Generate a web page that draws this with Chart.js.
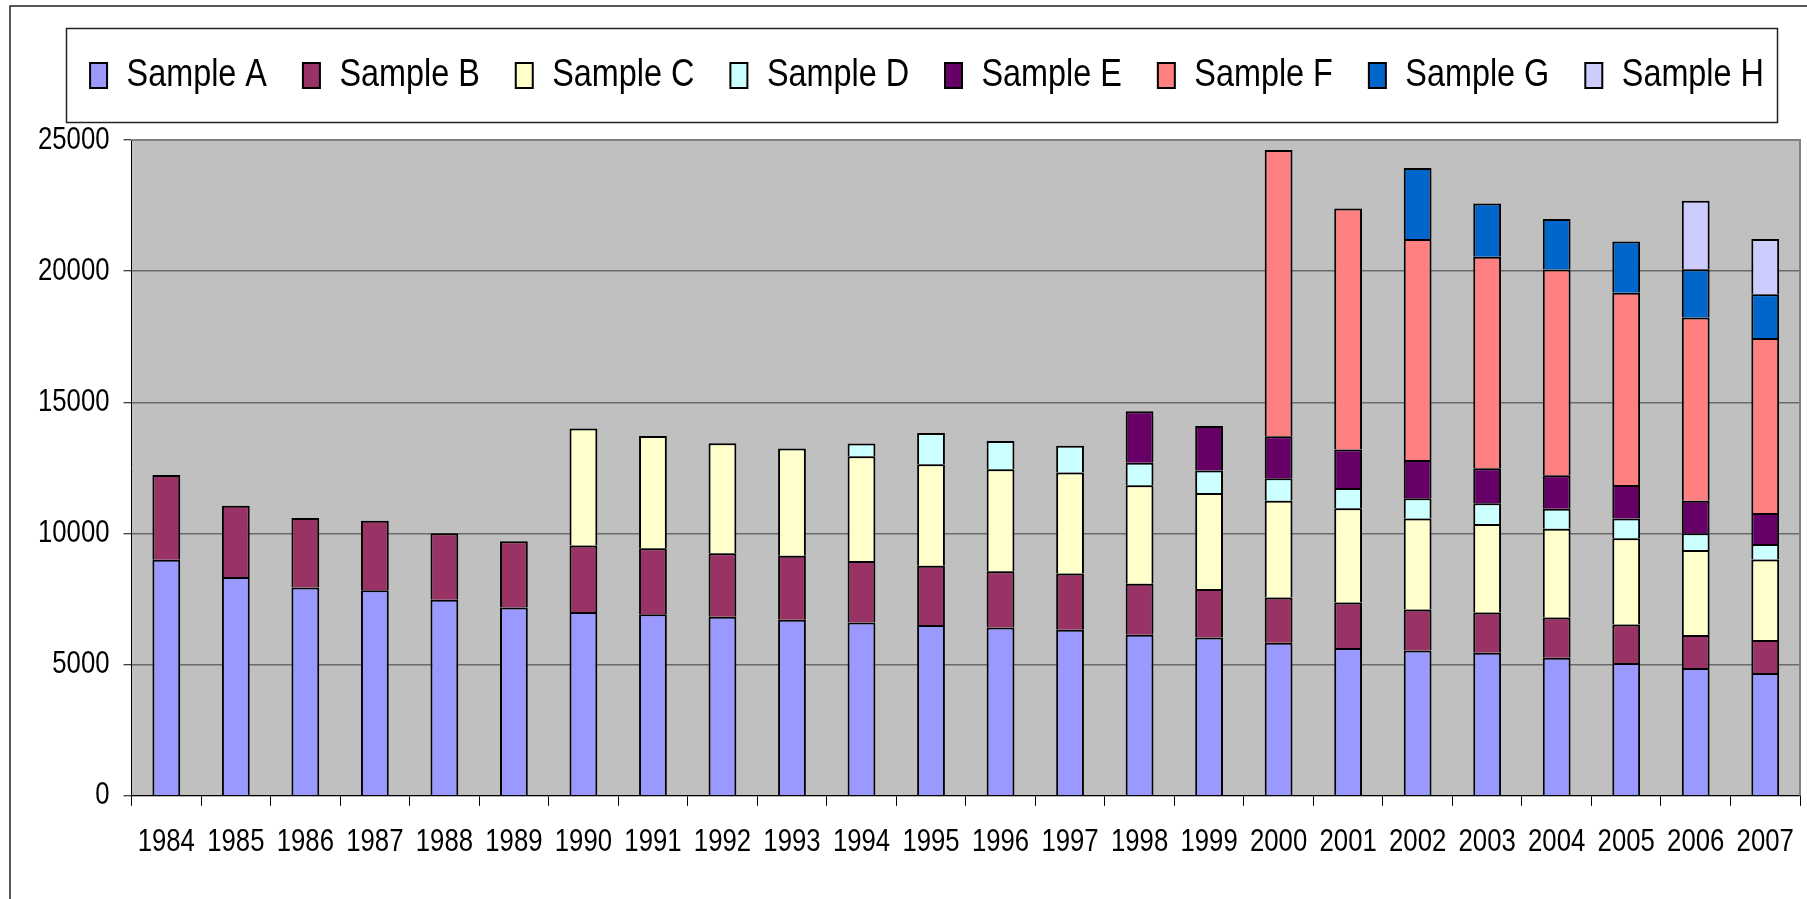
<!DOCTYPE html>
<html>
<head>
<meta charset="utf-8">
<script src="https://cdn.jsdelivr.net/npm/chart.js@4"></script>
<style>
  html, body { margin: 0; padding: 0; background: #ffffff; overflow: hidden; }
  #wrap { width: 1807px; height: 899px; position: relative; }
</style>
</head>
<body>
<div id="wrap"><canvas id="c" width="1807" height="899"></canvas></div>
<script>
const years = ['1984','1985','1986','1987','1988','1989','1990','1991','1992','1993','1994','1995',
               '1996','1997','1998','1999','2000','2001','2002','2003','2004','2005','2006','2007'];

const sampleA = [9000, 8340, 7940, 7840, 7470, 7180, 7010, 6920, 6830, 6710, 6610, 6510,
                 6420, 6330, 6135, 6030, 5830, 5630, 5540, 5450, 5260, 5060, 4870, 4680];
const sampleB = [3230, 2720, 2650, 2650, 2540, 2520, 2530, 2520, 2420, 2440, 2340, 2260,
                 2140, 2140, 1950, 1850, 1730, 1740, 1560, 1540, 1540, 1470, 1260, 1260];
const sampleC = [null, null, null, null, null, null, 4460, 4280, 4190, 4090, 3990, 3870,
                 3890, 3850, 3755, 3660, 3690, 3590, 3470, 3370, 3380, 3290, 3240, 3070];
const sampleD = [null, null, null, null, null, null, null, null, null, null, 490, 1190,
                 1080, 1020, 860, 860, 860, 770, 770, 790, 760, 750, 640, 590];
const sampleE = [null, null, null, null, null, null, null, null, null, null, null, null,
                 null, null, 1960, 1700, 1600, 1470, 1460, 1340, 1280, 1280, 1240, 1180];
const sampleF = [null, null, null, null, null, null, null, null, null, null, null, null,
                 null, null, null, null, 10910, 9190, 8430, 8060, 7840, 7330, 6980, 6670];
const sampleG = [null, null, null, null, null, null, null, null, null, null, null, null,
                 null, null, null, null, null, null, 2700, 2030, 1930, 1950, 1840, 1670];
const sampleH = [null, null, null, null, null, null, null, null, null, null, null, null,
                 null, null, null, null, null, null, null, null, null, null, 2610, 2110];

const seriesNames = ['Sample A','Sample B','Sample C','Sample D','Sample E','Sample F','Sample G','Sample H'];
const seriesValues = [sampleA, sampleB, sampleC, sampleD, sampleE, sampleF, sampleG, sampleH];
const seriesColors = ['#9999FF','#993366','#FFFFCC','#CCFFFF','#660066','#FF8080','#0066CC','#CCCCFF'];

const yTickValues = [0, 5000, 10000, 15000, 20000, 25000];

const FONT = "'Liberation Sans', Arial, sans-serif";
Chart.defaults.font.family = FONT;
Chart.defaults.color = '#000000';

// The reference's lettering is horizontally condensed (Arial-Narrow-like);
// draw every text horizontally squeezed by this factor.
const TEXT_SQUEEZE = 0.83;

const canvas = document.getElementById('c');
const ctx2d = canvas.getContext('2d');
(function condenseText(ctx, s) {
  const origFill = ctx.fillText.bind(ctx);
  const origMeasure = ctx.measureText.bind(ctx);
  ctx.fillText = function (text, x, y, maxWidth) {
    ctx.save();
    ctx.translate(x, y);
    ctx.scale(s, 1);
    if (maxWidth === undefined) origFill(text, 0, 0);
    else origFill(text, 0, 0, maxWidth / s);
    ctx.restore();
  };
  ctx.measureText = function (text) {
    const m = origMeasure(text);
    return {
      width: m.width * s,
      actualBoundingBoxLeft: m.actualBoundingBoxLeft * s,
      actualBoundingBoxRight: m.actualBoundingBoxRight * s,
      actualBoundingBoxAscent: m.actualBoundingBoxAscent,
      actualBoundingBoxDescent: m.actualBoundingBoxDescent,
      fontBoundingBoxAscent: m.fontBoundingBoxAscent,
      fontBoundingBoxDescent: m.fontBoundingBoxDescent
    };
  };
})(ctx2d, TEXT_SQUEEZE);

const LEGEND_HEIGHT = 120;
const LEGEND_SHIFT_X = 15;

const legendFit = {
  id: 'legendFit',
  beforeInit(chart) {
    const lg = chart.legend;
    if (!lg) return;
    const orig = lg.fit;
    lg.fit = function () { orig.call(this); this.height = LEGEND_HEIGHT; };
  },
  afterLayout(chart) {
    const lg = chart.legend;
    if (!lg) return;
    lg.left += LEGEND_SHIFT_X;
    lg.right += LEGEND_SHIFT_X;
  }
};

const decorations = {
  id: 'decorations',
  beforeDraw(chart) {
    const { ctx, chartArea: a } = chart;
    ctx.save();
    ctx.fillStyle = '#C0C0C0';
    ctx.fillRect(a.left, a.top, a.right - a.left, a.bottom - a.top);
    ctx.restore();
  },
  beforeDatasetsDraw(chart) {
    const { ctx, chartArea: a } = chart;
    ctx.save();
    ctx.strokeStyle = '#808080';
    ctx.lineWidth = 2;
    ctx.beginPath();
    ctx.moveTo(a.left, a.top);
    ctx.lineTo(a.right, a.top);
    ctx.lineTo(a.right, a.bottom);
    ctx.stroke();
    ctx.restore();
  },
  afterDraw(chart) {
    const { ctx } = chart;
    ctx.save();
    // outer chart frame (only its left and top edges fall inside the picture)
    ctx.strokeStyle = '#222222';
    ctx.lineWidth = 1.5;
    ctx.beginPath();
    ctx.moveTo(10, chart.height + 5);
    ctx.lineTo(10, 6);
    ctx.lineTo(chart.width + 5, 6);
    ctx.stroke();
    // legend frame around the legend entries
    const hb = chart.legend && chart.legend.legendHitBoxes;
    if (hb && hb.length) {
      const first = hb[0], last = hb[hb.length - 1];
      const left = first.left - 24;
      const right = last.left + last.width + 13;
      const top = chart.legend.top + 8;
      const bottom = chart.chartArea.top - 18;
      ctx.strokeStyle = '#222222';
      ctx.lineWidth = 1.5;
      ctx.strokeRect(Math.round(left) + 0.5, Math.round(top) + 0.5,
                     Math.round(right - left), Math.round(bottom - top));
    }
    ctx.restore();
  }
};

const datasets = seriesNames.map((name, i) => ({
  label: name,
  data: seriesValues[i],
  backgroundColor: seriesColors[i],
  borderColor: '#000000',
  borderWidth: 2,
  borderSkipped: 'start',
  barPercentage: 0.4,
  categoryPercentage: 1.0
}));

new Chart(canvas, {
  type: 'bar',
  data: { labels: years, datasets },
  options: {
    responsive: false,
    animation: false,
    maintainAspectRatio: false,
    layout: { padding: { left: 24, right: 7, top: 20, bottom: 20 } },
    plugins: {
      legend: {
        position: 'top',
        align: 'center',
        labels: {
          boxWidth: 17,
          boxHeight: 25,
          padding: 36,
          color: '#000000',
          font: { size: 39, family: FONT }
        }
      },
      tooltip: { enabled: false }
    },
    scales: {
      x: {
        stacked: true,
        offset: true,
        grid: { drawOnChartArea: false, offset: true, drawTicks: true, tickLength: 10, tickColor: '#000000', tickWidth: 1 },
        border: { color: '#000000', width: 1 },
        ticks: { padding: 18, color: '#000000', font: { size: 31, family: FONT }, maxRotation: 0, autoSkip: false },
        afterFit(s) { s.paddingLeft = 0; s.paddingRight = 0; }
      },
      y: {
        stacked: true,
        min: yTickValues[0],
        max: yTickValues[yTickValues.length - 1],
        afterBuildTicks(s) { s.ticks = yTickValues.map(v => ({ value: v })); },
        grid: { color: '#6a6a6a', lineWidth: 1.5, drawTicks: true, tickLength: 8, tickColor: '#000000', tickWidth: 1 },
        border: { color: '#000000', width: 1 },
        ticks: { padding: 14, color: '#000000', font: { size: 31, family: FONT }, callback: v => String(v) }
      }
    }
  },
  plugins: [legendFit, decorations]
});
</script>
</body>
</html>
